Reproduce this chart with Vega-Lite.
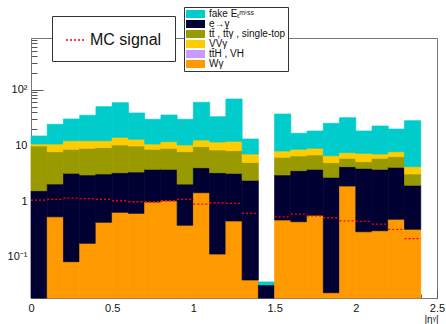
{
  "$schema": "https://vega.github.io/schema/vega-lite/v6.json",
  "width": 406,
  "height": 260,
  "autosize": {"type": "none"},
  "padding": {"left": 31, "top": 38, "right": 9, "bottom": 26},
  "background": "white",
  "config": {
    "view": {"stroke": "#777", "strokeWidth": 1},
    "font": "Liberation Sans",
    "axis": {"grid": false, "domainColor": "#777", "tickColor": "#555", "labelColor": "#111", "labelFont": "Liberation Sans", "labelFontSize": 11}
  },
  "resolve": {"scale": {"stroke": "independent"}},
  "datasets": {
    "bkg": [
      {"lo":0,"hi":0.1,"p":"e→γ","n":1.53},{"lo":0,"hi":0.1,"p":"tt\u0304 , tt\u0304γ , single-top","n":8.22},{"lo":0,"hi":0.1,"p":"VVγ","n":0.85},{"lo":0,"hi":0.1,"p":"fake E\u209c\u1d50\u2071\u02e2\u02e2","n":4.16},
      {"lo":0.1,"hi":0.2,"p":"Wγ","n":0.52},{"lo":0.1,"hi":0.2,"p":"e→γ","n":1.5},{"lo":0.1,"hi":0.2,"p":"tt\u0304 , tt\u0304γ , single-top","n":5.68},{"lo":0.1,"hi":0.2,"p":"VVγ","n":2.9},{"lo":0.1,"hi":0.2,"p":"fake E\u209c\u1d50\u2071\u02e2\u02e2","n":13.35},
      {"lo":0.2,"hi":0.3,"p":"Wγ","n":0.081},{"lo":0.2,"hi":0.3,"p":"e→γ","n":3.07},{"lo":0.2,"hi":0.3,"p":"tt\u0304 , tt\u0304γ , single-top","n":5.36},{"lo":0.2,"hi":0.3,"p":"VVγ","n":3.64},{"lo":0.2,"hi":0.3,"p":"fake E\u209c\u1d50\u2071\u02e2\u02e2","n":17.7},
      {"lo":0.3,"hi":0.4,"p":"Wγ","n":0.173},{"lo":0.3,"hi":0.4,"p":"e→γ","n":2.77},{"lo":0.3,"hi":0.4,"p":"tt\u0304 , tt\u0304γ , single-top","n":5.93},{"lo":0.3,"hi":0.4,"p":"VVγ","n":3.28},{"lo":0.3,"hi":0.4,"p":"fake E\u209c\u1d50\u2071\u02e2\u02e2","n":22.65},
      {"lo":0.4,"hi":0.5,"p":"Wγ","n":0.414},{"lo":0.4,"hi":0.5,"p":"e→γ","n":2.65},{"lo":0.4,"hi":0.5,"p":"tt\u0304 , tt\u0304γ , single-top","n":6.03},{"lo":0.4,"hi":0.5,"p":"VVγ","n":3.06},{"lo":0.4,"hi":0.5,"p":"fake E\u209c\u1d50\u2071\u02e2\u02e2","n":37.55},
      {"lo":0.5,"hi":0.6,"p":"Wγ","n":0.626},{"lo":0.5,"hi":0.6,"p":"e→γ","n":2.6},{"lo":0.5,"hi":0.6,"p":"tt\u0304 , tt\u0304γ , single-top","n":6.94},{"lo":0.5,"hi":0.6,"p":"VVγ","n":3.82},{"lo":0.5,"hi":0.6,"p":"fake E\u209c\u1d50\u2071\u02e2\u02e2","n":44.6},
      {"lo":0.6,"hi":0.7,"p":"Wγ","n":0.6},{"lo":0.6,"hi":0.7,"p":"e→γ","n":2.72},{"lo":0.6,"hi":0.7,"p":"tt\u0304 , tt\u0304γ , single-top","n":6.43},{"lo":0.6,"hi":0.7,"p":"VVγ","n":3.13},{"lo":0.6,"hi":0.7,"p":"fake E\u209c\u1d50\u2071\u02e2\u02e2","n":25.4},
      {"lo":0.7,"hi":0.8,"p":"Wγ","n":0.96},{"lo":0.7,"hi":0.8,"p":"e→γ","n":2.76},{"lo":0.7,"hi":0.8,"p":"tt\u0304 , tt\u0304γ , single-top","n":4.79},{"lo":0.7,"hi":0.8,"p":"VVγ","n":2.09},{"lo":0.7,"hi":0.8,"p":"fake E\u209c\u1d50\u2071\u02e2\u02e2","n":18.87},
      {"lo":0.8,"hi":0.9,"p":"Wγ","n":1.01},{"lo":0.8,"hi":0.9,"p":"e→γ","n":2.71},{"lo":0.8,"hi":0.9,"p":"tt\u0304 , tt\u0304γ , single-top","n":5.15},{"lo":0.8,"hi":0.9,"p":"VVγ","n":2.79},{"lo":0.8,"hi":0.9,"p":"fake E\u209c\u1d50\u2071\u02e2\u02e2","n":23.54},
      {"lo":0.9,"hi":1.0,"p":"Wγ","n":0.366},{"lo":0.9,"hi":1.0,"p":"e→γ","n":1.65},{"lo":0.9,"hi":1.0,"p":"tt\u0304 , tt\u0304γ , single-top","n":5.68},{"lo":0.9,"hi":1.0,"p":"VVγ","n":2.47},{"lo":0.9,"hi":1.0,"p":"fake E\u209c\u1d50\u2071\u02e2\u02e2","n":19.3},
      {"lo":1.0,"hi":1.1,"p":"Wγ","n":1.41},{"lo":1.0,"hi":1.1,"p":"e→γ","n":2.56},{"lo":1.0,"hi":1.1,"p":"tt\u0304 , tt\u0304γ , single-top","n":5.51},{"lo":1.0,"hi":1.1,"p":"VVγ","n":3.02},{"lo":1.0,"hi":1.1,"p":"fake E\u209c\u1d50\u2071\u02e2\u02e2","n":47.1},
      {"lo":1.1,"hi":1.2,"p":"Wγ","n":0.111},{"lo":1.1,"hi":1.2,"p":"e→γ","n":3.12},{"lo":1.1,"hi":1.2,"p":"tt\u0304 , tt\u0304γ , single-top","n":5.04},{"lo":1.1,"hi":1.2,"p":"VVγ","n":3.23},{"lo":1.1,"hi":1.2,"p":"fake E\u209c\u1d50\u2071\u02e2\u02e2","n":21.3},
      {"lo":1.2,"hi":1.3,"p":"Wγ","n":0.437},{"lo":1.2,"hi":1.3,"p":"e→γ","n":2.71},{"lo":1.2,"hi":1.3,"p":"tt\u0304 , tt\u0304γ , single-top","n":4.88},{"lo":1.2,"hi":1.3,"p":"VVγ","n":3.82},{"lo":1.2,"hi":1.3,"p":"fake E\u209c\u1d50\u2071\u02e2\u02e2","n":56.55},
      {"lo":1.3,"hi":1.4,"p":"Wγ","n":0.038},{"lo":1.3,"hi":1.4,"p":"e→γ","n":2.32},{"lo":1.3,"hi":1.4,"p":"tt\u0304 , tt\u0304γ , single-top","n":2.56},{"lo":1.3,"hi":1.4,"p":"VVγ","n":2.08},{"lo":1.3,"hi":1.4,"p":"fake E\u209c\u1d50\u2071\u02e2\u02e2","n":6.03},
      {"lo":1.4,"hi":1.5,"p":"e→γ","n":0.031},{"lo":1.4,"hi":1.5,"p":"fake E\u209c\u1d50\u2071\u02e2\u02e2","n":0.004},
      {"lo":1.5,"hi":1.6,"p":"Wγ","n":0.455},{"lo":1.5,"hi":1.6,"p":"e→γ","n":2.49},{"lo":1.5,"hi":1.6,"p":"tt\u0304 , tt\u0304γ , single-top","n":3.17},{"lo":1.5,"hi":1.6,"p":"VVγ","n":1.82},{"lo":1.5,"hi":1.6,"p":"fake E\u209c\u1d50\u2071\u02e2\u02e2","n":28.8},
      {"lo":1.6,"hi":1.7,"p":"Wγ","n":0.424},{"lo":1.6,"hi":1.7,"p":"e→γ","n":3.09},{"lo":1.6,"hi":1.7,"p":"tt\u0304 , tt\u0304γ , single-top","n":2.94},{"lo":1.6,"hi":1.7,"p":"VVγ","n":2.06},{"lo":1.6,"hi":1.7,"p":"fake E\u209c\u1d50\u2071\u02e2\u02e2","n":8.0},
      {"lo":1.7,"hi":1.8,"p":"Wγ","n":0.553},{"lo":1.7,"hi":1.8,"p":"e→γ","n":3.17},{"lo":1.7,"hi":1.8,"p":"tt\u0304 , tt\u0304γ , single-top","n":3.0},{"lo":1.7,"hi":1.8,"p":"VVγ","n":2.15},{"lo":1.7,"hi":1.8,"p":"fake E\u209c\u1d50\u2071\u02e2\u02e2","n":9.28},
      {"lo":1.8,"hi":1.9,"p":"Wγ","n":0.0224},{"lo":1.8,"hi":1.9,"p":"e→γ","n":2.65},{"lo":1.8,"hi":1.9,"p":"tt\u0304 , tt\u0304γ , single-top","n":2.22},{"lo":1.8,"hi":1.9,"p":"VVγ","n":1.64},{"lo":1.8,"hi":1.9,"p":"fake E\u209c\u1d50\u2071\u02e2\u02e2","n":18.44},
      {"lo":1.9,"hi":2.0,"p":"Wγ","n":1.86},{"lo":1.9,"hi":2.0,"p":"e→γ","n":2.28},{"lo":1.9,"hi":2.0,"p":"tt\u0304 , tt\u0304γ , single-top","n":1.72},{"lo":1.9,"hi":2.0,"p":"VVγ","n":1.53},{"lo":1.9,"hi":2.0,"p":"fake E\u209c\u1d50\u2071\u02e2\u02e2","n":24.1},
      {"lo":2.0,"hi":2.1,"p":"Wγ","n":0.28},{"lo":2.0,"hi":2.1,"p":"e→γ","n":3.59},{"lo":2.0,"hi":2.1,"p":"tt\u0304 , tt\u0304γ , single-top","n":1.22},{"lo":2.0,"hi":2.1,"p":"VVγ","n":2.12},{"lo":2.0,"hi":2.1,"p":"fake E\u209c\u1d50\u2071\u02e2\u02e2","n":10.94},
      {"lo":2.1,"hi":2.2,"p":"Wγ","n":0.292},{"lo":2.1,"hi":2.2,"p":"e→γ","n":3.43},{"lo":2.1,"hi":2.2,"p":"tt\u0304 , tt\u0304γ , single-top","n":2.14},{"lo":2.1,"hi":2.2,"p":"VVγ","n":1.14},{"lo":2.1,"hi":2.2,"p":"fake E\u209c\u1d50\u2071\u02e2\u02e2","n":15.33},
      {"lo":2.2,"hi":2.3,"p":"Wγ","n":0.469},{"lo":2.2,"hi":2.3,"p":"e→γ","n":3.57},{"lo":2.2,"hi":2.3,"p":"tt\u0304 , tt\u0304γ , single-top","n":2.22},{"lo":2.2,"hi":2.3,"p":"VVγ","n":1.44},{"lo":2.2,"hi":2.3,"p":"fake E\u209c\u1d50\u2071\u02e2\u02e2","n":12.02},
      {"lo":2.3,"hi":2.4,"p":"Wγ","n":0.31},{"lo":2.3,"hi":2.4,"p":"e→γ","n":1.61},{"lo":2.3,"hi":2.4,"p":"tt\u0304 , tt\u0304γ , single-top","n":1.14},{"lo":2.3,"hi":2.4,"p":"VVγ","n":1.08},{"lo":2.3,"hi":2.4,"p":"fake E\u209c\u1d50\u2071\u02e2\u02e2","n":23.66}
    ],
    "sig": [
      {"lo":0,"hi":0.1,"n":1.04},{"lo":0.1,"hi":0.2,"n":1.07},{"lo":0.2,"hi":0.3,"n":1.13},{"lo":0.3,"hi":0.4,"n":1.1},
      {"lo":0.4,"hi":0.5,"n":1.07},{"lo":0.5,"hi":0.6,"n":1.01},{"lo":0.6,"hi":0.7,"n":0.97},{"lo":0.7,"hi":0.8,"n":0.97},
      {"lo":0.8,"hi":0.9,"n":1.01},{"lo":0.9,"hi":1.0,"n":1.07},{"lo":1.0,"hi":1.1,"n":0.88},{"lo":1.1,"hi":1.2,"n":0.93},
      {"lo":1.2,"hi":1.3,"n":0.91},{"lo":1.3,"hi":1.4,"n":0.6},{"lo":1.5,"hi":1.6,"n":0.52},{"lo":1.6,"hi":1.7,"n":0.58},
      {"lo":1.7,"hi":1.8,"n":0.54},{"lo":1.8,"hi":1.9,"n":0.5},{"lo":1.9,"hi":2.0,"n":0.44},{"lo":2.0,"hi":2.1,"n":0.43},
      {"lo":2.1,"hi":2.2,"n":0.385},{"lo":2.2,"hi":2.3,"n":0.31},{"lo":2.3,"hi":2.4,"n":0.21}
    ]
  },
  "layer": [
    {
      "data": {"name": "bkg"},
      "transform": [{"stack": "n", "groupby": ["lo"], "as": ["y0", "y1"]}],
      "mark": {"type": "rect", "invalid": null, "strokeWidth": 0.7},
      "encoding": {
        "x": {
          "field": "lo", "type": "quantitative", "title": "|η\u1d5e|",
          "scale": {"domain": [0, 2.5], "nice": false, "zero": false},
          "axis": {
            "values": [0,0.1,0.2,0.3,0.4,0.5,0.6,0.7,0.8,0.9,1,1.1,1.2,1.3,1.4,1.5,1.6,1.7,1.8,1.9,2,2.1,2.2,2.3,2.4,2.5],
            "tickCount": 100,
            "labelExpr": "abs(datum.value*2-round(datum.value*2))<0.01 ? format(datum.value,'~g') : ''",
            "tickSize": {"condition": {"test": "abs(datum.value*2-round(datum.value*2))<0.01", "value": -8}, "value": -4},
            "labelPadding": 12,
            "labelFlush": false,
            "labelOverlap": false,
            "titleAnchor": "end",
            "titleAlign": "right",
            "titleX": 407,
            "titleY": 26,
            "titleBaseline": "bottom",
            "titleFontSize": 10,
            "titleFontWeight": "normal",
            "titleColor": "#111",
            "titlePadding": 0
          }
        },
        "x2": {"field": "hi"},
        "y": {
          "field": "y1", "type": "quantitative", "title": null,
          "scale": {"type": "log", "domain": [0.018, 855], "nice": false, "clamp": true},
          "axis": {
            "values": [0.02,0.03,0.04,0.05,0.06,0.07,0.08,0.09,0.1,0.2,0.3,0.4,0.5,0.6,0.7,0.8,0.9,1,2,3,4,5,6,7,8,9,10,20,30,40,50,60,70,80,90,100,200,300,400,500,600,700,800],
            "tickCount": 100,
            "labelExpr": "datum.value==0.1 ? '10\u207b\u00b9' : datum.value==1 ? '1' : datum.value==10 ? '10' : datum.value==100 ? '10\u00b2' : ''",
            "tickSize": {"condition": {"test": "indexof([0.1,1,10,100], datum.value) >= 0", "value": -12}, "value": -6},
            "labelPadding": 16,
            "labelOverlap": false,
            "labelFlush": false
          }
        },
        "y2": {"field": "y0"},
        "fill": {
          "field": "p", "type": "nominal",
          "scale": {
            "domain": ["fake E\u209c\u1d50\u2071\u02e2\u02e2", "e→γ", "tt\u0304 , tt\u0304γ , single-top", "VVγ", "tt\u0304H , VH", "Wγ"],
            "range": ["#00cccc", "#000033", "#999900", "#ffcc00", "#cc99ff", "#ff9900"]
          },
          "legend": {
            "orient": "none", "legendX": 153, "legendY": -31, "title": null,
            "symbolType": "M-1.9,-0.8H1.9V0.8H-1.9Z", "symbolSize": 100, "symbolStrokeWidth": 0,
            "symbolOffset": 4.5, "labelOffset": 8.5, "labelFontSize": 10, "labelFont": "Liberation Sans", "labelColor": "#111",
            "rowPadding": 0, "padding": 2, "strokeColor": "#333", "fillColor": "white", "symbolOpacity": 1, "labelLimit": 200
          }
        },
        "stroke": {
          "field": "p", "type": "nominal",
          "scale": {
            "domain": ["fake E\u209c\u1d50\u2071\u02e2\u02e2", "e→γ", "tt\u0304 , tt\u0304γ , single-top", "VVγ", "tt\u0304H , VH", "Wγ"],
            "range": ["#00cccc", "#000033", "#999900", "#ffcc00", "#cc99ff", "#ff9900"]
          },
          "legend": null
        }
      }
    },
    {
      "data": {"name": "sig"},
      "mark": {"type": "rule", "strokeDash": [2, 2], "strokeWidth": 1.3},
      "encoding": {
        "x": {"field": "lo", "type": "quantitative", "title": "|η\u1d5e|"},
        "x2": {"field": "hi"},
        "y": {"field": "n", "type": "quantitative", "title": null},
        "stroke": {
          "datum": "MC signal", "type": "nominal",
          "scale": {"range": ["#ff0000"]},
          "legend": {
            "orient": "none", "legendX": 21, "legendY": -22, "title": null,
            "symbolType": "stroke", "symbolDash": [2, 2], "symbolStrokeWidth": 1.3, "symbolStrokeColor": "#ff0000",
            "symbolSize": 400, "labelFontSize": 16, "labelFont": "Liberation Sans", "labelColor": "#111",
            "labelOffset": 3, "padding": 13, "strokeColor": "#333", "fillColor": "white"
          }
        }
      }
    }
  ]
}
